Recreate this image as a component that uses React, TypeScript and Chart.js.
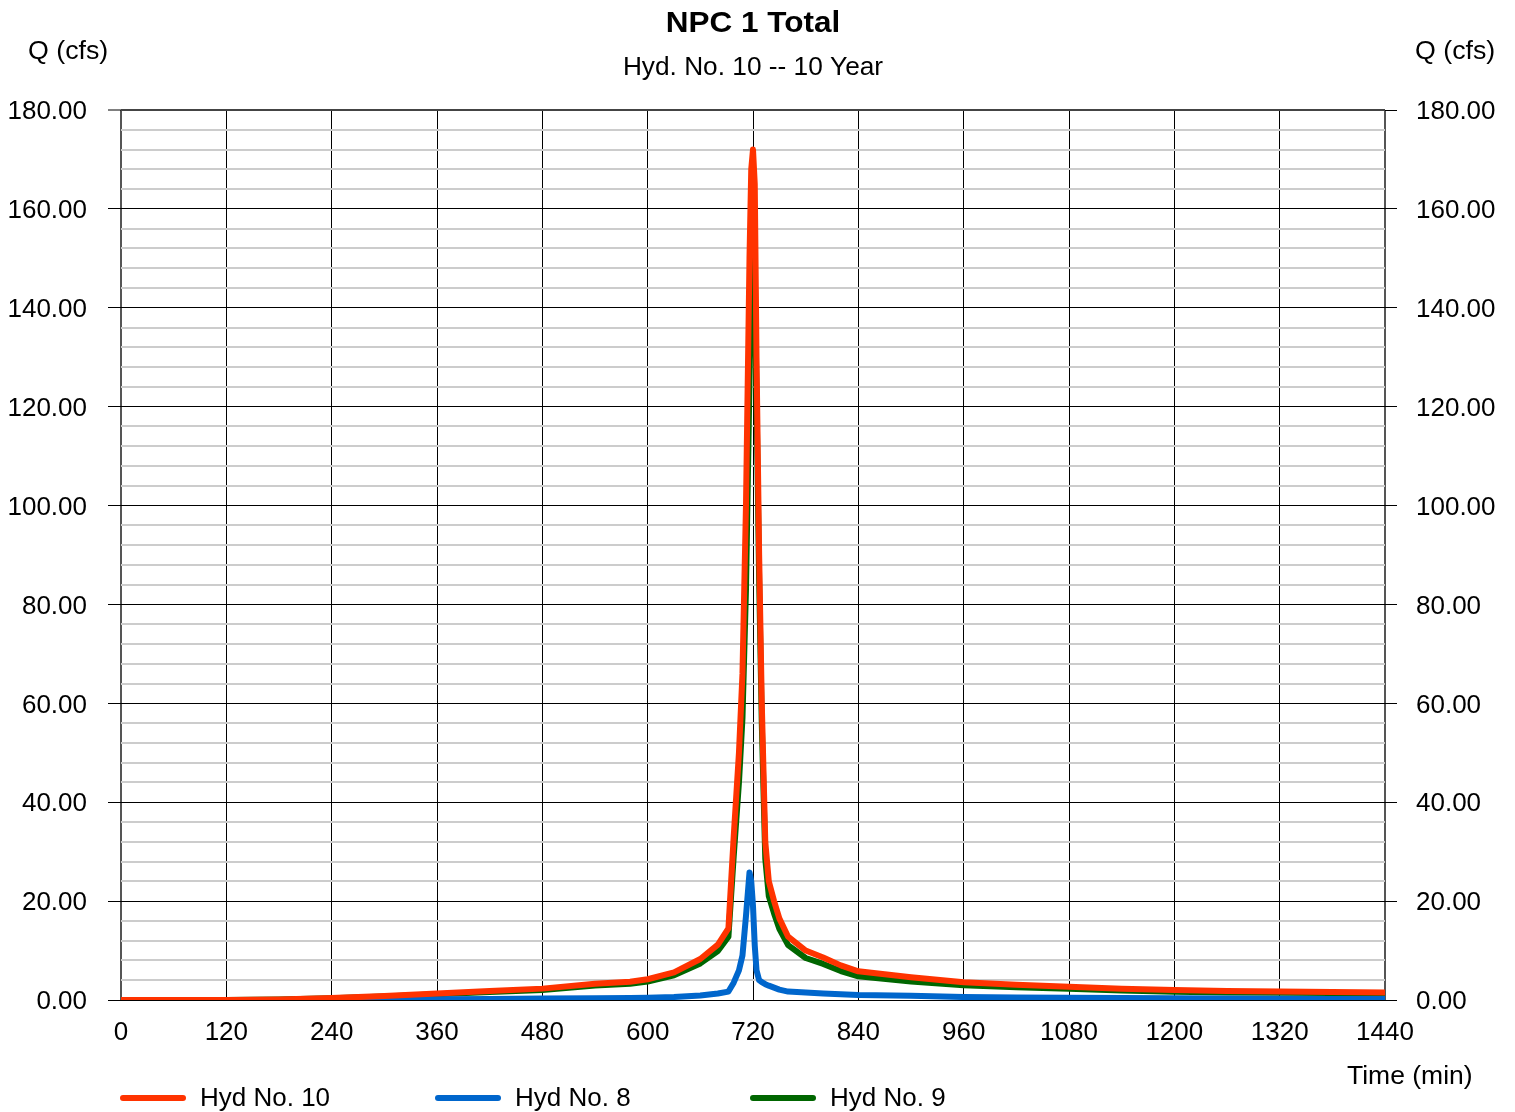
import React, { useEffect, useRef } from 'react';
import { Chart, registerables } from 'chart.js';

Chart.register(...registerables);

// ---- data ----
const times = [0, 120, 180, 240, 300, 360, 420, 480, 540, 580, 600, 630, 660, 680, 692, 698, 704, 708, 712, 716, 718, 720, 722, 724, 727, 730, 734, 738, 744, 750, 760, 780, 800, 820, 840, 900, 960, 1020, 1080, 1140, 1200, 1260, 1320, 1380, 1440];
const hyd10 = [0, 0, 0.1, 0.4, 0.8, 1.3, 1.8, 2.3, 3.3, 3.7, 4.2, 5.6, 8.3, 11.2, 14.5, 33, 50, 66, 100, 150, 168, 172, 165, 130, 90, 60, 32, 24, 20, 16.5, 12.8, 10, 8.6, 7, 5.8, 4.6, 3.6, 3.1, 2.7, 2.3, 2.0, 1.8, 1.7, 1.6, 1.5];
const hyd8 = [0, 0, 0, 0.05, 0.1, 0.15, 0.2, 0.3, 0.35, 0.4, 0.45, 0.6, 0.9, 1.3, 1.7, 3.5, 6, 9, 17, 25.8, 24, 19, 11, 6, 4, 3.6, 3.2, 2.9, 2.5, 2.1, 1.7, 1.5, 1.3, 1.15, 1.0, 0.85, 0.6, 0.5, 0.45, 0.4, 0.35, 0.3, 0.25, 0.2, 0.2];
const hyd9 = [0, 0, 0.1, 0.35, 0.7, 1.15, 1.6, 2.0, 2.95, 3.3, 3.75, 5.0, 7.4, 9.9, 12.8, 29, 44, 57, 83, 125, 145, 150, 148, 122, 85, 56, 28.5, 21, 17.5, 14.4, 11.1, 8.5, 7.3, 5.85, 4.8, 3.75, 3.0, 2.6, 2.25, 1.9, 1.65, 1.5, 1.45, 1.4, 1.3];

const seriesNames = ['Hyd No. 10', 'Hyd No. 8', 'Hyd No. 9'];
const seriesColors = ['#ff3300', '#0066cc', '#006600'];

const chartTitle = 'NPC 1 Total';
const chartSubtitle = 'Hyd. No. 10 -- 10 Year';
const yAxisLabel = 'Q (cfs)';
const xAxisLabel = 'Time (min)';

const yMin = 0;
const yMax = 180;
const yMinorStep = 4;
const yMajorStep = 20;
const xMin = 0;
const xMax = 1440;
const xStep = 120;

const FONT = "'Liberation Sans', Arial, sans-serif";

function drawText(ctx: CanvasRenderingContext2D, text: string, x: number, y: number, font: string, align: CanvasTextAlign, sx: number) {
  ctx.save();
  ctx.font = font;
  ctx.fillStyle = '#000';
  ctx.textBaseline = 'middle';
  ctx.textAlign = align;
  ctx.translate(x, y);
  ctx.scale(sx, 1);
  ctx.fillText(text, 0, 0);
  ctx.restore();
}

const decorPlugin = {
  id: 'decor',
  afterDraw(chart: any) {
    const ctx: CanvasRenderingContext2D = chart.ctx;
    const area = chart.chartArea;
    const cx = (area.left + area.right) / 2;
    drawText(ctx, chartTitle, cx, 24, `bold 30px ${FONT}`, 'center', 1.05);
    drawText(ctx, chartSubtitle, cx, 68, `25px ${FONT}`, 'center', 1.05);
    drawText(ctx, yAxisLabel, 28, 52, `25px ${FONT}`, 'left', 1.07);
    drawText(ctx, yAxisLabel, 1415, 52, `25px ${FONT}`, 'left', 1.07);
    drawText(ctx, xAxisLabel, 1347, 1077, `25px ${FONT}`, 'left', 1.06);
    // legend
    const legendX = [120, 435, 750];
    const legendY = 1098;
    chart.data.datasets.forEach((ds: any, i: number) => {
      const x0 = legendX[i];
      ctx.save();
      ctx.strokeStyle = ds.borderColor;
      ctx.lineWidth = 6;
      ctx.lineCap = 'round';
      ctx.beginPath();
      ctx.moveTo(x0 + 3, legendY);
      ctx.lineTo(x0 + 63, legendY);
      ctx.stroke();
      ctx.restore();
      drawText(ctx, ds.label, x0 + 80, legendY + 1, `25px ${FONT}`, 'left', 1.04);
    });
  },
};

function isMajorY(v: number) {
  return Math.abs(v % yMajorStep) < 1e-6;
}

export default function App() {
  const ref = useRef<HTMLCanvasElement | null>(null);

  useEffect(() => {
    if (!ref.current) return;
    const series = [hyd10, hyd8, hyd9];
    const datasets = series.map((vals, i) => ({
      label: seriesNames[i],
      data: times.map((t, j) => ({ x: t, y: vals[j] })),
      borderColor: seriesColors[i],
      backgroundColor: seriesColors[i],
      borderWidth: 6,
      pointRadius: 0,
      tension: 0,
      fill: false,
      borderCapStyle: 'round' as const,
      borderJoinStyle: 'round' as const,
    }));

    const yTickFont = { family: FONT, size: 26 };

    const chart = new Chart(ref.current, {
      type: 'line',
      data: { datasets },
      options: {
        animation: false,
        responsive: false,
        maintainAspectRatio: false,
        layout: { padding: { top: 110, left: 0, right: 0, bottom: 0 } },
        plugins: {
          legend: { display: false },
          title: { display: false },
          tooltip: { enabled: false },
        },
        scales: {
          x: {
            type: 'linear',
            min: xMin,
            max: xMax,
            afterFit: (s: any) => { s.height = 112; },
            ticks: {
              stepSize: xStep,
              autoSkip: false,
              maxRotation: 0,
              padding: 17,
              color: '#000',
              font: { family: FONT, size: 26 },
              callback: (v: any) => String(v),
            },
            grid: {
              drawTicks: false,
              color: (c: any) => (c.tick && (c.tick.value === xMin || c.tick.value === xMax) ? '#555' : '#000'),
              lineWidth: (c: any) => (c.tick && (c.tick.value === xMin || c.tick.value === xMax) ? 2 : 1),
            },
            border: { display: false },
          },
          y: {
            type: 'linear',
            position: 'left',
            min: yMin,
            max: yMax,
            afterFit: (s: any) => { s.width = 121; },
            ticks: {
              stepSize: yMinorStep,
              autoSkip: false,
              padding: 21,
              labelOffset: 2,
              color: '#000',
              font: yTickFont,
              callback: (v: any) => (isMajorY(Number(v)) ? Number(v).toFixed(2) : ''),
            },
            grid: {
              tickLength: 13,
              color: (c: any) => {
                const v = c.tick ? c.tick.value : 0;
                if (v === yMax) return '#444';
                return isMajorY(v) ? '#000' : '#cccccc';
              },
              lineWidth: (c: any) => {
                const v = c.tick ? c.tick.value : 0;
                if (v === yMax) return 2;
                return isMajorY(v) ? 1 : 2;
              },
              tickColor: (c: any) => (c.tick && isMajorY(c.tick.value) ? '#000' : 'rgba(0,0,0,0)'),
              tickWidth: 1,
            },
            border: { display: false },
          },
          y2: {
            type: 'linear',
            position: 'right',
            min: yMin,
            max: yMax,
            afterFit: (s: any) => { s.width = 130; },
            ticks: {
              stepSize: yMinorStep,
              autoSkip: false,
              padding: 19,
              labelOffset: 2,
              color: '#000',
              font: yTickFont,
              callback: (v: any) => (isMajorY(Number(v)) ? Number(v).toFixed(2) : ''),
            },
            grid: {
              drawOnChartArea: false,
              tickLength: 12,
              tickColor: (c: any) => (c.tick && isMajorY(c.tick.value) ? '#000' : 'rgba(0,0,0,0)'),
              tickWidth: 1,
            },
            border: { display: false },
          },
        },
      },
      plugins: [decorPlugin],
    });

    return () => chart.destroy();
  }, []);

  return (
    <div style={{ position: 'absolute', left: 0, top: 0, width: 1515, height: 1112, background: '#fff' }}>
      <canvas ref={ref} width={1515} height={1112} style={{ display: 'block', width: 1515, height: 1112 }} />
    </div>
  );
}
